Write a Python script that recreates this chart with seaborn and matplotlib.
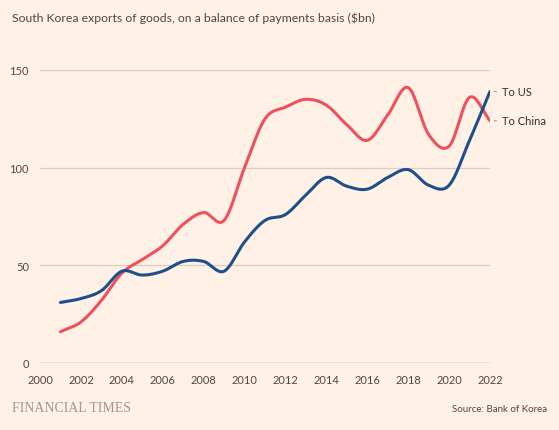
import numpy as np
import pandas as pd
import matplotlib
matplotlib.use("Agg")
import matplotlib.pyplot as plt
import seaborn as sns

# Annual exports ($bn)
years = list(range(2001, 2023))
to_us = [31, 33, 37, 47, 45, 47, 52, 52, 47, 62, 73, 76, 86, 95, 90.5, 89, 95, 99, 91, 91, 114, 139]
to_china = [16, 21, 32, 46, 53, 60, 71, 77, 73, 100, 125, 131, 135, 132, 122, 114, 127, 141, 117, 111, 136, 124]
series_names = ["To US", "To China"]
x_ticks = list(range(2000, 2023, 2))
y_ticks = [0, 50, 100, 150]

bg = "#FFF1E5"
colors = {"To US": "#1F4F8B", "To China": "#F0505E"}


def smooth(x, y, n=20):
    # Catmull-Rom curve through the data points, only for drawing
    x = np.asarray(x, float)
    y = np.asarray(y, float)
    px = np.concatenate([[2 * x[0] - x[1]], x, [2 * x[-1] - x[-2]]])
    py = np.concatenate([[2 * y[0] - y[1]], y, [2 * y[-1] - y[-2]]])
    xs, ys = [], []
    t = np.linspace(0, 1, n, endpoint=False)
    for i in range(1, len(px) - 2):
        for p, out in ((px, xs), (py, ys)):
            p0, p1, p2, p3 = p[i - 1], p[i], p[i + 1], p[i + 2]
            out.extend(0.5 * ((2 * p1) + (-p0 + p2) * t
                              + (2 * p0 - 5 * p1 + 4 * p2 - p3) * t ** 2
                              + (-p0 + 3 * p1 - 3 * p2 + p3) * t ** 3))
    xs.append(x[-1])
    ys.append(y[-1])
    return np.array(xs), np.array(ys)


frames = []
for name, vals in zip(series_names, [to_us, to_china]):
    sx, sy = smooth(years, vals)
    frames.append(pd.DataFrame({"year": sx, "value": sy, "series": name}))
df = pd.concat(frames, ignore_index=True)

sns.set_style("white")
plt.rcParams["font.family"] = ["Lato", "DejaVu Sans"]

fig = plt.figure(figsize=(5.59, 4.31), dpi=100, facecolor=bg)
ax = fig.add_axes([40 / 559, 67 / 431, 450 / 559, 293 / 431])
ax.set_facecolor(bg)

sns.lineplot(data=df, x="year", y="value", hue="series", palette=colors,
             hue_order=["To China", "To US"], linewidth=2.2, sort=False,
             estimator=None, legend=False, ax=ax)

ax.set_xlim(2000, 2022)
ax.set_ylim(0, 150)
ax.set_xticks(x_ticks)
ax.set_yticks(y_ticks)
for v in y_ticks[1:]:
    ax.axhline(v, color="#DACCC0", linewidth=0.9, zorder=0)
ax.axhline(0, color="#66605C", linewidth=0.9, zorder=1)
for s in ax.spines.values():
    s.set_visible(False)
ax.tick_params(axis="x", length=5, width=0.8, color="#66605C", pad=3,
               labelsize=8, labelcolor="#4D4845", direction="out")
ax.tick_params(axis="y", length=0, pad=8, labelsize=8, labelcolor="#4D4845")
ax.set_xlabel("")
ax.set_ylabel("")

# line-end labels with a short leader dash
for name, vals in zip(series_names, [to_us, to_china]):
    ax.annotate(name, xy=(years[-1], vals[-1]), xytext=(9, 0),
                textcoords="offset points", va="center", ha="left",
                fontsize=8, color="#33302E", annotation_clip=False,
                arrowprops=dict(arrowstyle="-", color="#999999", lw=0.8,
                                shrinkA=2, shrinkB=3))

fig.text(12 / 559, 1 - 18 / 431, "South Korea exports of goods, on a balance of payments basis ($bn)",
         fontsize=8.8, color="#4D4845", va="center", ha="left")
fig.text(12 / 559, 1 - 409 / 431, "FINANCIAL TIMES", family="Liberation Serif",
         fontsize=10, color="#A0978F", va="center", ha="left")
fig.text(547 / 559, 1 - 410 / 431, "Source: Bank of Korea",
         fontsize=7, color="#4D4845", va="center", ha="right")

fig.savefig("out.png", dpi=100, facecolor=bg)
